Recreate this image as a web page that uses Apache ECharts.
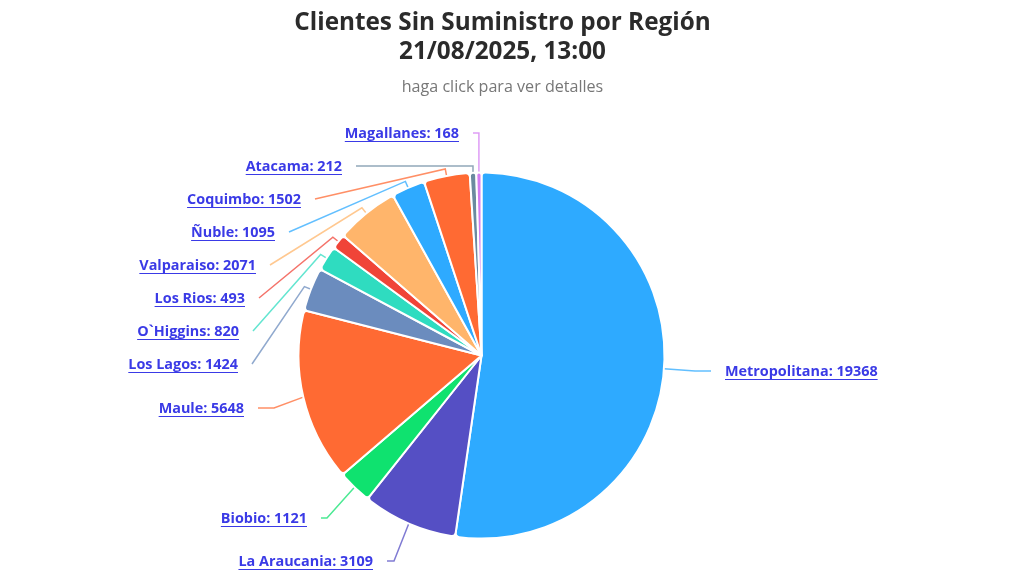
<!DOCTYPE html>
<html><head><meta charset="utf-8">
<style>html,body{margin:0;padding:0;background:#fff}#c{width:1024px;height:576px}</style>
<script src="https://cdn.jsdelivr.net/npm/echarts@6/dist/echarts.min.js"></script>
</head><body><div id="c"></div>
<script>
const regions = ['Metropolitana','La Araucania','Biobio','Maule','Los Lagos','O`Higgins','Los Rios','Valparaiso','Ñuble','Coquimbo','Atacama','Magallanes'];
const clients = [19368,3109,1121,5648,1424,820,493,2071,1095,1502,212,168];
const colors = ['#2eaaff','#554fc4','#0fe26f','#ff6a33','#6b8cbe','#2fdcc0','#f04438','#ffb56b','#2eaaff','#ff6a33','#6b8aa0','#d37cf2'];
const titleLines = ['Clientes Sin Suministro por Región','21/08/2025, 13:00'];
const subtitle = 'haga click para ver detalles';
// label anchor: text edge nearest the pie, and text middle line
const labelX = [725,373,307,244,238,239,245,256,275,301,342,459];
const labelY = [372,562,519,409,365,332,299,266,233,200,167,134];
// horizontal run of the connector next to the label (0 = straight diagonal with elbow at the slice)
const flatRun = [16,7,6,16,0,0,0,0,0,0,0,0];
const CX = 481.5, CY = 355.5, R = 183, LINK = '#3a3ae6';
const TITLE_X = 497.5;
const total = clients.reduce((a,b)=>a+b,0);
let acc = 0;
const midAngles = clients.map(v=>{const m=(acc+v/2)/total*2*Math.PI;acc+=v;return m;});
const polar = (a,r)=>[CX+r*Math.sin(a),CY-r*Math.cos(a)];
const titleStyle = {fontFamily:'Open Sans',fontWeight:700,fontSize:24.3,color:'#2b2b2b'};

const chart = echarts.init(document.getElementById('c'),null,{renderer:'canvas'});
chart.setOption({
  backgroundColor:'#fff',
  animation:false,
  title:[
    {text:titleLines[0],left:TITLE_X,textAlign:'center',top:6,textStyle:titleStyle},
    {text:titleLines[1],left:TITLE_X,textAlign:'center',top:35,textStyle:titleStyle},
    {text:subtitle,left:TITLE_X,textAlign:'center',top:74,textStyle:{fontFamily:'Open Sans',fontWeight:400,fontSize:16.1,color:'#777'}}
  ],
  series:[{
    type:'pie',
    center:[CX,CY],radius:[0,R],
    startAngle:90,clockwise:true,
    avoidLabelOverlap:false,
    itemStyle:{borderColor:'#fff',borderWidth:2,borderRadius:4},
    label:{
      show:true,
      formatter:p=>`{t|${p.name}: ${p.value}}\n{u|}`,
      rich:{
        t:{fontFamily:'Open Sans',fontWeight:700,fontSize:14.4,color:LINK,lineHeight:15},
        u:{width:'100%',height:1,lineHeight:1,backgroundColor:LINK}
      }
    },
    labelLine:{show:true,smooth:false,lineStyle:{width:1.5,opacity:0.75}},
    labelLayout:p=>{
      const i=p.dataIndex, right=i===0, a=midAngles[i], dir=right?1:-1;
      const x=labelX[i], y=labelY[i];
      const lineY=y-1;
      const end=[x-dir*14,lineY];
      const edge=polar(a,R);
      let pts;
      if(i>=10) pts=[edge,[edge[0],lineY],end];
      else if(flatRun[i]>0) pts=[edge,[end[0]-dir*flatRun[i],lineY],end];
      else pts=[edge,polar(a,R+7),end];
      return {x:x,y:y,align:right?'left':'right',verticalAlign:'middle',labelLinePoints:pts};
    },
    data:regions.map((n,i)=>({name:n,value:clients[i],itemStyle:{color:colors[i]},labelLine:{lineStyle:{color:colors[i]}}}))
  }]
});
</script></body></html>
